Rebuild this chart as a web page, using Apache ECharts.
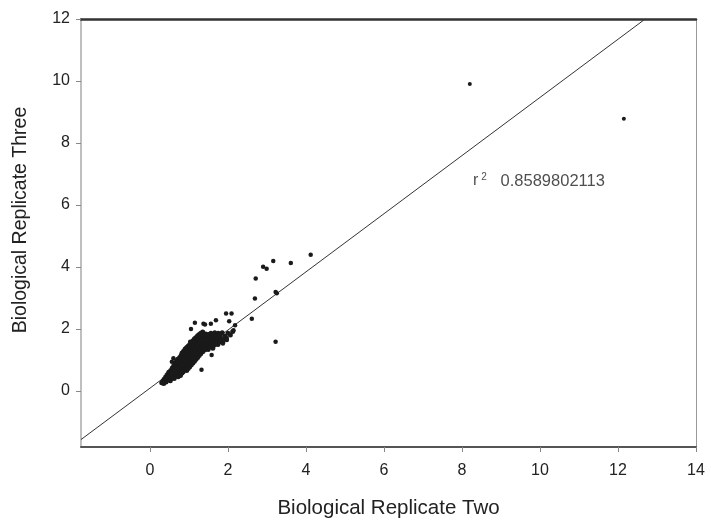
<!DOCTYPE html>
<html>
<head>
<meta charset="utf-8">
<script src="https://cdn.jsdelivr.net/npm/echarts@6/dist/echarts.min.js"></script>
<style>html,body{margin:0;padding:0;background:#fff;}#c{width:711px;height:524px;}</style>
</head>
<body>
<div id="c"></div>
<script>
// Axis extents and tick labels
const xRange = [-1.77, 14];
const yRange = [-1.81, 12];
const xTicks = [0, 2, 4, 6, 8, 10, 12, 14];
const yTicks = [0, 2, 4, 6, 8, 10, 12];

// Dense core cloud [x, y]
const coreCloud = [
[0.30,0.26],[0.33,0.31],[0.35,0.24],[0.36,0.38],[0.38,0.33],[0.40,0.45],[0.41,0.29],[0.43,0.40],[0.44,0.52],[0.46,0.35],
[0.47,0.47],[0.48,0.60],[0.50,0.42],[0.51,0.55],[0.52,0.33],[0.53,0.66],[0.54,0.48],[0.55,0.40],[0.56,0.58],[0.57,0.74],
[0.58,0.45],[0.59,0.64],[0.60,0.52],[0.61,0.82],[0.62,0.40],[0.62,0.70],[0.63,0.58],[0.64,0.90],[0.65,0.48],[0.66,0.76],
[0.67,0.63],[0.68,0.96],[0.69,0.54],[0.70,0.84],[0.70,0.68],[0.71,1.02],[0.72,0.46],[0.72,0.60],[0.73,0.78],[0.74,0.92],
[0.75,0.55],[0.76,1.08],[0.76,0.70],[0.77,0.86],[0.78,0.50],[0.78,1.00],[0.79,0.64],[0.80,1.15],[0.80,0.80],[0.81,0.94],
[0.82,0.58],[0.82,1.22],[0.83,0.72],[0.84,1.05],[0.85,0.88],[0.85,0.62],[0.86,1.28],[0.87,0.78],[0.87,1.12],[0.88,0.96],
[0.89,0.68],[0.90,1.35],[0.90,0.85],[0.91,1.02],[0.92,0.74],[0.92,1.18],[0.93,0.92],[0.94,1.40],[0.94,0.66],[0.95,1.08],
[0.96,0.82],[0.96,1.26],[0.97,0.98],[0.98,1.45],[0.98,0.72],[0.99,1.14],[1.00,0.88],[1.00,1.32],[1.01,1.04],[1.02,0.78],
[1.02,1.50],[1.03,1.20],[1.04,0.94],[1.04,1.38],[1.05,1.10],[1.06,0.84],[1.06,1.56],[1.07,1.26],[1.08,1.00],[1.08,1.44],
[1.09,1.16],[1.10,0.90],[1.10,1.62],[1.11,1.32],[1.12,1.06],[1.12,1.50],[1.13,1.22],[1.14,0.96],[1.14,1.68],[1.15,1.38],
[1.16,1.12],[1.16,1.56],[1.17,1.28],[1.18,1.02],[1.18,1.72],[1.19,1.44],[1.20,1.18],[1.20,1.60],[1.21,1.34],[1.22,1.08],
[1.22,1.78],[1.23,1.50],[1.24,1.24],[1.24,1.66],[1.25,1.40],[1.26,1.14],[1.26,1.82],[1.27,1.56],[1.28,1.30],[1.28,1.70],
[1.29,1.46],[1.30,1.20],[1.30,1.86],[1.31,1.60],[1.32,1.36],[1.33,1.74],[1.34,1.50],[1.35,1.26],[1.35,1.90],[1.36,1.64],
[1.37,1.42],[1.38,1.78],[1.39,1.54],[1.40,1.32],[1.41,1.70],[1.42,1.48],[1.43,1.84],[1.44,1.38],[1.45,1.60],[1.46,1.76],
[1.47,1.44],[1.48,1.66],[1.49,1.34],[1.50,1.82],[1.51,1.56],[1.52,1.72],[1.53,1.42],[1.55,1.64],[1.56,1.86],[1.57,1.50],
[1.58,1.74],[1.60,1.58],[1.61,1.38],[1.62,1.80],[1.63,1.62],[1.65,1.48],[1.66,1.88],[1.67,1.70],[1.69,1.54],[1.70,1.82],
[1.72,1.64],[1.74,1.50],[1.75,1.86],[1.77,1.72],[1.79,1.58],[1.80,1.80],[1.83,1.68],[1.85,1.88],[1.88,1.62],[1.92,1.76],
[1.96,1.70],[2.00,1.86],[2.06,1.80],[2.12,1.92],
[0.74,0.80],[0.79,0.90],[0.84,0.95],[0.88,1.05],[0.93,1.05],[0.97,1.15],[1.01,1.18],[1.05,1.25],[1.09,1.28],[1.13,1.35],
[1.17,1.40],[1.21,1.45],[1.25,1.52],[1.29,1.58],[1.33,1.62],[1.37,1.66],[0.66,0.66],[0.69,0.74],[0.58,0.56],[0.53,0.50],
[0.45,0.43],[0.98,1.02],[1.03,1.08],[1.07,1.12],[1.11,1.18],[1.15,1.22],[0.90,0.95],[0.86,0.86],[0.82,0.84]
];

// Scattered points around the cloud [x, y]
const scattered = [
[0.56,0.94],[0.60,1.05],[0.38,0.28],[1.03,1.59],[1.05,2.00],[1.15,2.20],[1.37,2.17],[1.41,2.14],[1.56,2.17],[1.69,2.28],
[1.95,2.50],[2.09,2.50],[2.03,2.25],[2.18,2.12],[2.14,1.96],[1.58,1.16],[1.32,0.68],[1.97,1.64],[1.79,1.59],[1.87,1.53],
[2.61,2.33],[2.69,2.98],[2.71,3.63],[2.90,4.01],[2.99,3.94],[3.16,4.19],[3.61,4.13],[4.12,4.39],[3.22,3.19],[3.25,3.15],
[3.22,1.59]
];

// Far outliers [x, y]
const outliers = [[8.20, 9.90], [12.15, 8.78]];

// Regression line
const fitSlope = 0.938;
const fitIntercept = 0.09;
const rSquaredText = '0.8589802113';
const annotationAt = [8.28, 6.77];

const lineEnd = (yRange[1] - fitIntercept) / fitSlope;
const fitLine = [[xRange[0], fitIntercept + fitSlope * xRange[0]], [lineEnd, yRange[1]]];

const font = 'Liberation Sans, Arial, sans-serif';
const chart = echarts.init(document.getElementById('c'));
chart.setOption({
  animation: false,
  backgroundColor: '#fff',
  grid: { left: 81, right: 15, top: 19, bottom: 75 },
  xAxis: [{
    type: 'value', min: xRange[0], max: xRange[1], position: 'bottom',
    name: 'Biological Replicate Two', nameLocation: 'middle', nameGap: 51,
    nameTextStyle: { fontFamily: font, fontSize: 20.5, color: '#222' },
    axisLine: { show: true, onZero: false, lineStyle: { color: '#555', width: 2 } },
    axisTick: { show: true, length: 5, customValues: xTicks, lineStyle: { color: '#888' } },
    axisLabel: { customValues: xTicks, fontFamily: font, fontSize: 16, color: '#222', margin: 16 },
    splitLine: { show: false }
  }, {
    type: 'value', min: xRange[0], max: xRange[1], position: 'top',
    axisLine: { show: true, onZero: false, lineStyle: { color: '#333', width: 2.5 } },
    axisTick: { show: false }, axisLabel: { show: false }, splitLine: { show: false }
  }],
  yAxis: [{
    type: 'value', min: yRange[0], max: yRange[1], position: 'left',
    name: 'Biological Replicate Three', nameLocation: 'middle', nameGap: 50,
    nameTextStyle: { fontFamily: font, fontSize: 19.5, color: '#222', padding: [0, 0, 0, 26] },
    axisLine: { show: true, onZero: false, lineStyle: { color: '#aaa', width: 1.5 } },
    axisTick: { show: true, length: 5, customValues: yTicks, lineStyle: { color: '#888' } },
    axisLabel: { customValues: yTicks, fontFamily: font, fontSize: 16, color: '#222', margin: 11 },
    splitLine: { show: false }
  }, {
    type: 'value', min: yRange[0], max: yRange[1], position: 'right',
    axisLine: { show: true, onZero: false, lineStyle: { color: '#999', width: 1 } },
    axisTick: { show: false }, axisLabel: { show: false }, splitLine: { show: false }
  }],
  series: [
    {
      type: 'line', data: fitLine, symbol: 'none', silent: true,
      lineStyle: { color: '#333', width: 1 }, z: 2
    },
    {
      type: 'scatter', data: coreCloud, symbolSize: 5, silent: true,
      itemStyle: { color: '#1a1a1a', opacity: 1 }, z: 3
    },
    {
      type: 'scatter', data: scattered, symbolSize: 4.5, silent: true,
      itemStyle: { color: '#1a1a1a', opacity: 1 }, z: 3
    },
    {
      type: 'scatter', data: outliers, symbolSize: 4, silent: true,
      itemStyle: { color: '#1a1a1a', opacity: 1 }, z: 3
    },
    {
      type: 'scatter', data: [annotationAt], symbolSize: 0, silent: true,
      label: {
        show: true, position: 'right', distance: 0,
        formatter: '{r|r}{s|2}{n|   ' + rSquaredText + '}',
        rich: {
          r: { fontFamily: font, fontSize: 16, color: '#222' },
          s: { fontFamily: font, fontSize: 10, color: '#222', verticalAlign: 'top', padding: [0, 0, 6, 3] },
          n: { fontFamily: font, fontSize: 16.5, color: '#222' }
        }
      }
    }
  ]
});
</script>
</body>
</html>
